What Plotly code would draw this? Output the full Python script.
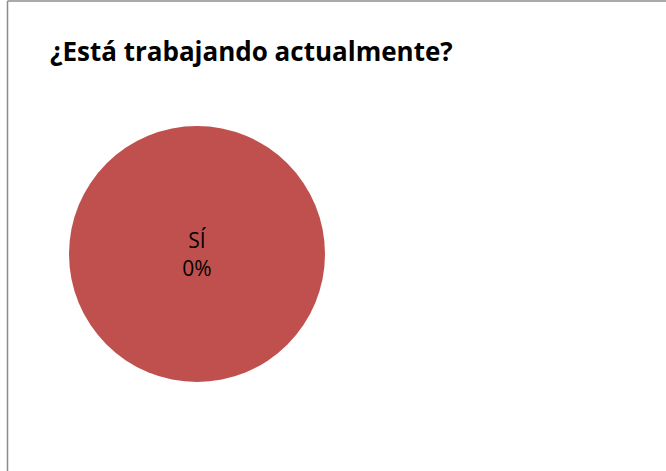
import plotly.graph_objects as go

W, H = 666, 471

categories = ["SÍ"]
share = [100]
pct_labels = ["0%"]
colors = ["#C0504D"]
title_text = "¿Está trabajando actualmente?"

fig = go.Figure()
fig.add_trace(go.Pie(
    labels=categories,
    values=share,
    text=pct_labels,
    texttemplate="%{label}<br>%{text}",
    textposition="inside",
    insidetextorientation="horizontal",
    textfont=dict(family="Open Sans", size=21, color="#000000"),
    marker=dict(colors=colors, line=dict(width=0)),
    sort=False,
    showlegend=False,
    hoverinfo="label+text",
    domain=dict(x=[69 / W, 325 / W], y=[(H - 382) / H, (H - 126) / H]),
))

fig.add_annotation(
    text="<b>" + title_text + "</b>",
    xref="paper", yref="paper",
    x=48 / W, y=(H - 51) / H,
    xanchor="left", yanchor="middle",
    showarrow=False,
    font=dict(family="Open Sans", size=26, color="#000000"),
)

# chart frame (left and top edges visible)
fig.add_shape(type="line", xref="paper", yref="paper",
              x0=7.5 / W, x1=7.5 / W, y0=0, y1=1 - 1 / H,
              line=dict(color="#8C8C8C", width=1.5))
fig.add_shape(type="line", xref="paper", yref="paper",
              x0=7.5 / W, x1=1, y0=1 - 1 / H, y1=1 - 1 / H,
              line=dict(color="#8C8C8C", width=1.5))

fig.update_layout(
    width=W, height=H,
    margin=dict(l=0, r=0, t=0, b=0),
    paper_bgcolor="white",
    plot_bgcolor="white",
)

fig.write_html(
    "out.html",
    config={"displayModeBar": False},
    post_script="document.body.style.margin='0';document.body.style.overflow='hidden';",
)
